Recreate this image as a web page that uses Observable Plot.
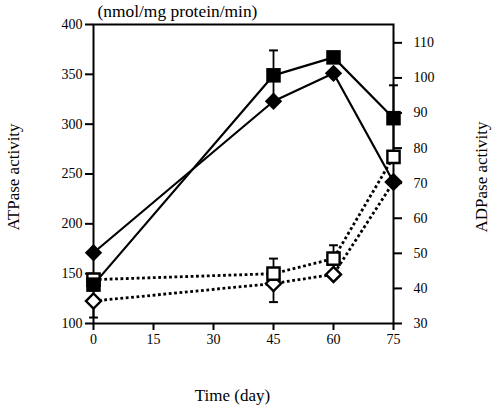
<!DOCTYPE html>
<html>
<head>
<meta charset="utf-8">
<script src="https://cdn.jsdelivr.net/npm/d3@7"></script>
<script src="https://cdn.jsdelivr.net/npm/@observablehq/plot@0.6"></script>
<style>
  html, body { margin: 0; padding: 0; background: #fff; }
  svg { display: block; }
</style>
</head>
<body>
<div id="chart"></div>
<script>
// ---- data ----
const xTicks = [0, 15, 30, 45, 60, 75];
const leftTicks = [100, 150, 200, 250, 300, 350, 400];
const rightTicks = [30, 40, 50, 60, 70, 80, 90, 100, 110];
const sampleDays = [0, 45, 60, 75];
const atpaseSquare = [139, 349, 367, 306];   // filled squares, left axis
const atpaseDiamond = [171, 323, 351, 242];  // filled diamonds, left axis
const adpaseSquare = [42.5, 44.2, 48.5, 77.5];  // open squares, right axis
const adpaseDiamond = [36.4, 41.4, 44.0, 70.3]; // open diamonds, right axis
// one-sided error bars: series, day, end value
const errSeries = ["atpaseSquare", "atpaseSquare", "atpaseSquare", "atpaseSquare", "adpaseSquare", "adpaseSquare", "adpaseDiamond", "adpaseDiamond"];
const errDay = [45, 45, 75, 75, 45, 60, 0, 45];
const errEnd = [374, 324, 339, 273, 48.5, 52.3, 31.7, 36.1];

// right axis (ADPase) -> left axis (ATPase) coordinate
const R0 = 30, L0 = 100, K = 3.52;
const toLeft = v => L0 + (v - R0) * K;
const fromLeft = v => R0 + (v - L0) / K;

const seriesVals = {atpaseSquare, atpaseDiamond, adpaseSquare, adpaseDiamond};
const isRight = s => s.startsWith("adpase");
const table = (name) => sampleDays.map((d, i) => ({
  day: d,
  y: isRight(name) ? toLeft(seriesVals[name][i]) : seriesVals[name][i]
}));

const errTable = errSeries.map((s, i) => {
  const idx = sampleDays.indexOf(errDay[i]);
  const v = seriesVals[s][idx];
  const conv = isRight(s) ? toLeft : (x => x);
  return {day: errDay[i], y1: conv(v), y2: conv(errEnd[i])};
});

const capSymbol = {
  draw(ctx, size) {
    const w = Math.sqrt(size) / 2;
    ctx.moveTo(-w, 0);
    ctx.lineTo(w, 0);
  }
};

const font = "Liberation Serif, Times New Roman, serif";

const chart = Plot.plot({
  width: 492,
  height: 407,
  marginLeft: 93,
  marginRight: 99,
  marginTop: 24,
  marginBottom: 84,
  x: {domain: [0, 75]},
  y: {domain: [100, 400]},
  style: {fontFamily: font, fontSize: "14px", color: "black", background: "white"},
  marks: [
    Plot.frame({stroke: "black", strokeWidth: 2}),
    Plot.axisX({ticks: xTicks, tickSize: 7, tickPadding: 4, label: null, strokeWidth: 2, fontSize: 14}),
    Plot.axisY({anchor: "left", ticks: leftTicks, tickSize: 8, tickPadding: 3, label: null, strokeWidth: 2, fontSize: 14}),
    Plot.axisY({anchor: "right", ticks: rightTicks.map(toLeft), tickFormat: d => String(Math.round(fromLeft(d))),
      tickSize: 8, tickPadding: 12, label: null, strokeWidth: 2, fontSize: 14}),
    // lines
    Plot.line(table("atpaseSquare"), {x: "day", y: "y", stroke: "black", strokeWidth: 2.2}),
    Plot.line(table("atpaseDiamond"), {x: "day", y: "y", stroke: "black", strokeWidth: 2.2}),
    Plot.line(table("adpaseSquare"), {x: "day", y: "y", stroke: "black", strokeWidth: 2.8, strokeDasharray: "2.8,2.6", strokeLinecap: "butt"}),
    Plot.line(table("adpaseDiamond"), {x: "day", y: "y", stroke: "black", strokeWidth: 2.8, strokeDasharray: "2.8,2.6", strokeLinecap: "butt"}),
    // error bars
    Plot.ruleX(errTable, {x: "day", y1: "y1", y2: "y2", stroke: "black", strokeWidth: 1.8}),
    Plot.dot(errTable, {x: "day", y: "y2", symbol: capSymbol, r: 5, stroke: "black", strokeWidth: 2, fill: "none"}),
    // markers
    Plot.dot(table("adpaseDiamond"), {x: "day", y: "y", symbol: "diamond2", r: 6.8, fill: "white", stroke: "black", strokeWidth: 2.4}),
    Plot.dot(table("adpaseSquare"), {x: "day", y: "y", symbol: "square", r: 6.9, fill: "white", stroke: "black", strokeWidth: 2.4}),
    Plot.dot(table("atpaseSquare"), {x: "day", y: "y", symbol: "square", r: 8.2, fill: "black", stroke: "none"}),
    Plot.dot(table("atpaseDiamond"), {x: "day", y: "y", symbol: "diamond2", r: 7.8, fill: "black", stroke: "none"}),
    // texts
    Plot.text(["(nmol/mg protein/min)"], {frameAnchor: "top-left", textAnchor: "start", lineAnchor: "middle", dx: 4, dy: -13, fontSize: 17.4, fill: "black"}),
    Plot.text(["ATPase activity"], {frameAnchor: "left", textAnchor: "middle", lineAnchor: "middle", rotate: -90, dx: -80, dy: 3, fontSize: 17, fill: "black"}),
    Plot.text(["ADPase activity"], {frameAnchor: "right", textAnchor: "middle", lineAnchor: "middle", rotate: -90, dx: 88, dy: 3, fontSize: 17, fill: "black"}),
    Plot.text(["Time (day)"], {frameAnchor: "bottom", textAnchor: "middle", lineAnchor: "middle", dx: -11, dy: 72, fontSize: 17, fill: "black"})
  ]
});

document.getElementById("chart").appendChild(chart);
</script>
</body>
</html>
